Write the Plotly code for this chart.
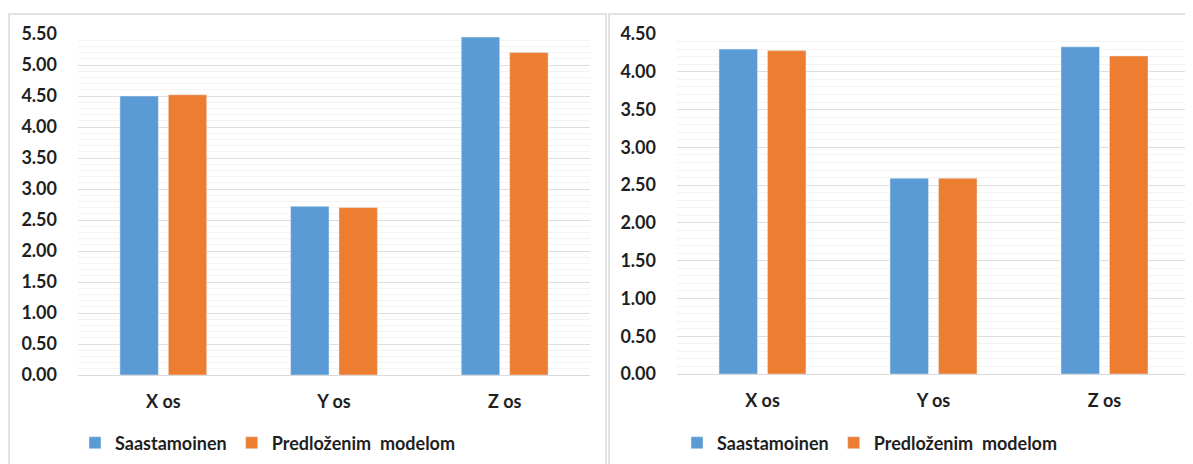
import plotly.graph_objects as go

categories = ["X os", "Y os", "Z os"]
series_names = ["Saastamoinen", "Predloženim  modelom"]
left_saastamoinen = [4.50, 2.72, 5.45]
left_predlozenim = [4.52, 2.70, 5.20]
right_saastamoinen = [4.30, 2.59, 4.33]
right_predlozenim = [4.28, 2.59, 4.21]
left_ticks = [0.0, 0.5, 1.0, 1.5, 2.0, 2.5, 3.0, 3.5, 4.0, 4.5, 5.0, 5.5]
right_ticks = [0.0, 0.5, 1.0, 1.5, 2.0, 2.5, 3.0, 3.5, 4.0, 4.5]

BLUE = "#5B9BD5"
ORANGE = "#ED7D31"
FONT = dict(family="Lato, 'Open Sans', sans-serif", size=18, color="#1f1f1f",
            weight="bold")
OFF = 8  # page body margin
W, H = 1193 - OFF, 464 - OFF


def px_x(v):
    return (v - OFF) / W


def px_y(v):
    return (H - (v - OFF)) / H


fig = go.Figure()
fig.add_trace(go.Bar(x=categories, y=left_saastamoinen, name=series_names[0],
                     marker_color=BLUE, xaxis="x", yaxis="y", legend="legend"))
fig.add_trace(go.Bar(x=categories, y=left_predlozenim, name=series_names[1],
                     marker_color=ORANGE, xaxis="x", yaxis="y", legend="legend"))
fig.add_trace(go.Bar(x=categories, y=right_saastamoinen, name=series_names[0],
                     marker_color=BLUE, xaxis="x2", yaxis="y2", legend="legend2"))
fig.add_trace(go.Bar(x=categories, y=right_predlozenim, name=series_names[1],
                     marker_color=ORANGE, xaxis="x2", yaxis="y2", legend="legend2"))

grid = dict(showgrid=True, gridcolor="#dedede", gridwidth=1,
            minor=dict(dtick=0.1, showgrid=True, gridcolor="#f3f3f3", gridwidth=1),
            zeroline=True, zerolinecolor="#d9d9d9", zerolinewidth=1,
            tickformat=".2f", ticklabelstandoff=20, tickfont=FONT,
            automargin=False, fixedrange=True)

xcommon = dict(showgrid=False, zeroline=False, showline=False, tickfont=FONT,
               ticklabelstandoff=14, automargin=False, fixedrange=True)

fig.update_layout(
    width=W, height=H, autosize=False,
    margin=dict(l=0, r=0, t=0, b=0, autoexpand=False),
    paper_bgcolor="white", plot_bgcolor="white",
    font=FONT,
    barmode="group", bargap=0.433, bargroupgap=0.206,
    xaxis=dict(domain=[px_x(78), px_x(590)], anchor="y", **xcommon),
    xaxis2=dict(domain=[px_x(677), px_x(1190)], anchor="y2", **xcommon),
    yaxis=dict(domain=[px_y(375), px_y(34)], range=[0, 5.5], tickvals=left_ticks,
               anchor="x", **grid),
    yaxis2=dict(domain=[px_y(374), px_y(34)], range=[0, 4.5], tickvals=right_ticks,
                anchor="x2", **grid),
    legend=dict(orientation="h", x=px_x(268), xanchor="center", y=px_y(443),
                yanchor="middle", font=FONT, bgcolor="rgba(0,0,0,0)"),
    legend2=dict(orientation="h", x=px_x(870), xanchor="center", y=px_y(443),
                 yanchor="middle", font=FONT, bgcolor="rgba(0,0,0,0)"),
    shapes=[
        dict(type="rect", xref="paper", yref="paper", x0=px_x(9), x1=px_x(606),
             y0=px_y(480), y1=px_y(14), line=dict(color="#d9d9d9", width=1.5),
             layer="below"),
        dict(type="rect", xref="paper", yref="paper", x0=px_x(609), x1=px_x(1210),
             y0=px_y(480), y1=px_y(14), line=dict(color="#d9d9d9", width=1.5),
             layer="below"),
    ],
)

fig.write_html("out.html")
